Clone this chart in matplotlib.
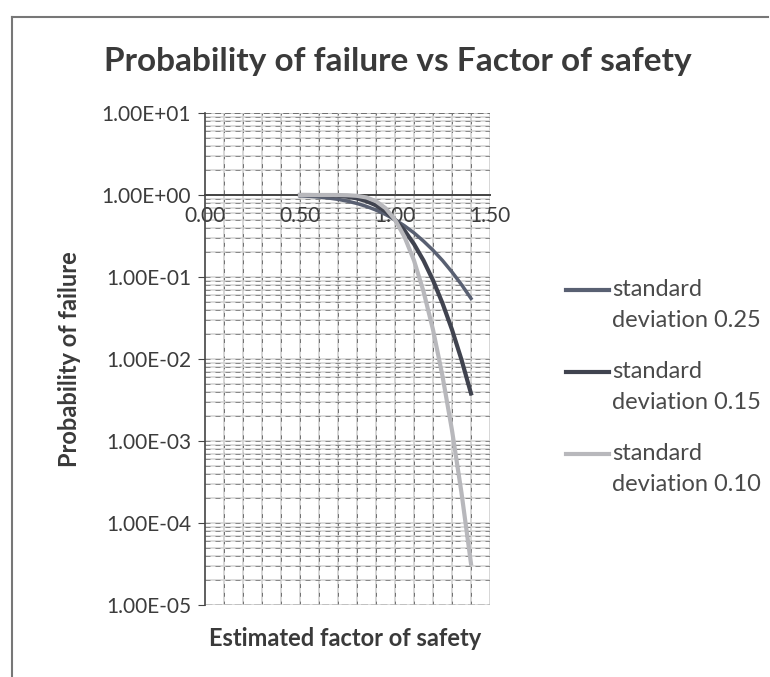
import numpy as np
import matplotlib
matplotlib.use("Agg")
import matplotlib.pyplot as plt
from matplotlib.ticker import FixedLocator, FuncFormatter, NullFormatter, NullLocator

plt.rcParams['font.family'] = ['Lato', 'DejaVu Sans']

# estimated factor of safety
fos = [0.50, 0.55, 0.60, 0.65, 0.70, 0.75, 0.80, 0.85, 0.90, 0.95,
       1.00, 1.05, 1.10, 1.15, 1.20, 1.25, 1.30, 1.35, 1.40]

# probability of failure
pf_025 = [0.977, 0.964, 0.945, 0.919, 0.885, 0.841, 0.788, 0.726, 0.655, 0.579,
          0.500, 0.421, 0.345, 0.274, 0.212, 0.159, 0.115, 0.0808, 0.0548]
pf_015 = [0.9996, 0.9986, 0.996, 0.990, 0.977, 0.952, 0.909, 0.841, 0.748, 0.631,
          0.500, 0.369, 0.252, 0.159, 0.0912, 0.0478, 0.0228, 0.0098, 0.0038]
pf_010 = [1.0, 1.0, 0.99997, 0.9998, 0.9987, 0.994, 0.977, 0.933, 0.841, 0.691,
          0.500, 0.309, 0.159, 0.0668, 0.0228, 0.0062, 0.00135, 0.000233, 0.000032]

labels = ['standard\ndeviation 0.25', 'standard\ndeviation 0.15', 'standard\ndeviation 0.10']
x_ticks = [0, 0.5, 1.0, 1.5]
y_ticks = [1e-5, 1e-4, 1e-3, 1e-2, 1e-1, 1e0, 1e1]
colors = ['#596072', '#40434f', '#b8b8bc']
widths = [2.5, 3.0, 3.0]

fig = plt.figure(figsize=(7.70, 6.77), dpi=100)
ax = fig.add_axes([205/770, 1-605/677, 285/770, (605-113)/677])

ax.set_yscale('log')
ax.set_ylim(1e-5, 10)
ax.set_xlim(0, 1.5)

# grid: light solid lines with a darker dashed overlay, like the scan
for x in np.arange(0.1, 1.51, 0.1):
    ax.axvline(x, color='#cfcfcf', lw=1.2, zorder=0)
    ax.axvline(x, color='#707070', lw=0.7, ls=(0, (4, 5)), zorder=0)
for d in range(-5, 1):
    for m in range(1, 10):
        y = m * 10.0**d
        ax.axhline(y, color='#d2d2d2', lw=1.1, zorder=0)
        ax.axhline(y, color='#7a7a7a', lw=0.6, ls=(0, (6, 6)), zorder=0)
ax.axhline(10, color='#c8c8c8', lw=1.3, zorder=0)
ax.axhline(10, color='#707070', lw=0.7, ls=(0, (6, 4)), zorder=0)
ax.axhline(1e-5, color='#555555', lw=1.0, ls=(0, (5, 2)), zorder=1)

for pf, lab, c, w in zip([pf_025, pf_015, pf_010], labels, colors, widths):
    ax.plot(fos, pf, color=c, lw=w, label=lab, zorder=3)

ax.spines['top'].set_visible(False)
ax.spines['right'].set_visible(False)
ax.spines['bottom'].set_position(('data', 1))
ax.spines['bottom'].set_color('#444444')
ax.spines['bottom'].set_linewidth(1.4)
ax.spines['left'].set_color('#444444')
ax.spines['left'].set_linewidth(1.2)

ax.xaxis.set_major_locator(FixedLocator(x_ticks))
ax.xaxis.set_minor_locator(NullLocator())
ax.xaxis.set_major_formatter(FuncFormatter(lambda v, p: '%.2f' % v))
ax.tick_params(axis='x', length=0, pad=8, labelsize=15, labelcolor='#3c3c3c')
ax.yaxis.set_major_locator(FixedLocator(y_ticks))
ax.yaxis.set_minor_locator(NullLocator())
ax.yaxis.set_minor_formatter(NullFormatter())
ax.yaxis.set_major_formatter(FuncFormatter(lambda v, p: '%.2E' % v))
ax.tick_params(axis='y', which='major', length=5, color='#444444', pad=5,
               labelsize=15, labelcolor='#3c3c3c')

ax.set_xlabel('Estimated factor of safety', fontsize=17, fontweight='bold',
              color='#3a3a3a')
ax.xaxis.set_label_coords(0.49, -0.045)
ax.set_ylabel('Probability of failure', fontsize=17, fontweight='bold',
              color='#3a3a3a')
ax.yaxis.set_label_coords(-0.435, 0.5)

fig.text(0.517, 1-62/677, 'Probability of failure vs Factor of safety',
         ha='center', va='center', fontsize=24, fontweight='bold', color='#3a3a3a')

leg = fig.legend(loc='upper left', bbox_to_anchor=(545/770, 1-258/677),
                 frameon=False, fontsize=17, labelspacing=1.3,
                 handlelength=1.8, handletextpad=0.15)
for t in leg.get_texts():
    t.set_color('#4a4a4a')
    t.set_linespacing(1.55)
# line samples sit beside the first text line, as in the reference
for h in leg.legend_handles:
    h.set_linewidth(3)
    h.set_ydata(np.asarray(h.get_ydata()) + 11)

# chart border from the scan
fig.add_artist(plt.Line2D([12/770, 0.998], [1-17/677, 1-17/677], transform=fig.transFigure,
                          color='#777777', lw=1.5))
fig.add_artist(plt.Line2D([12/770, 12/770], [0.002, 1-17/677], transform=fig.transFigure,
                          color='#777777', lw=1.5))

fig.savefig('out.png', dpi=100)
